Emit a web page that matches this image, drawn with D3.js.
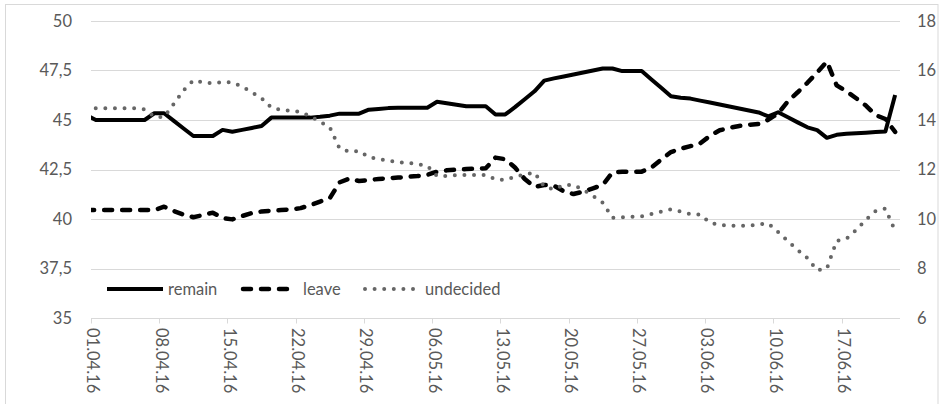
<!DOCTYPE html>
<html><head><meta charset="utf-8">
<script src="https://cdn.jsdelivr.net/npm/d3@7"></script>
<style>html,body{margin:0;padding:0;background:#fff;} svg{display:block;}</style>
</head><body>
<svg id="chart" width="944" height="404"></svg>
<script>
// ---- data ----
const dates = [
"31.03.16",
"01.04.16","02.04.16","03.04.16","04.04.16","05.04.16","06.04.16","07.04.16","08.04.16","09.04.16","10.04.16",
"11.04.16","12.04.16","13.04.16","14.04.16","15.04.16","16.04.16","17.04.16","18.04.16","19.04.16","20.04.16",
"21.04.16","22.04.16","23.04.16","24.04.16","25.04.16","26.04.16","27.04.16","28.04.16","29.04.16","30.04.16",
"01.05.16","02.05.16","03.05.16","04.05.16","05.05.16","06.05.16","07.05.16","08.05.16","09.05.16","10.05.16",
"11.05.16","12.05.16","13.05.16","14.05.16","15.05.16","16.05.16","17.05.16","18.05.16","19.05.16","20.05.16",
"21.05.16","22.05.16","23.05.16","24.05.16","25.05.16","26.05.16","27.05.16","28.05.16","29.05.16","30.05.16","31.05.16",
"01.06.16","02.06.16","03.06.16","04.06.16","05.06.16","06.06.16","07.06.16","08.06.16","09.06.16","10.06.16",
"11.06.16","12.06.16","13.06.16","14.06.16","15.06.16","16.06.16","17.06.16","18.06.16","19.06.16","20.06.16",
"21.06.16","22.06.16"
];
const remain = [
45.25,
45.0,45.0,45.0,45.0,45.0,45.0,45.34,45.34,44.96,44.57,
44.19,44.19,44.19,44.5,44.41,44.5,44.6,44.7,45.12,45.12,
45.12,45.12,45.12,45.16,45.22,45.32,45.32,45.32,45.52,45.56,
45.6,45.62,45.62,45.62,45.62,45.92,45.85,45.77,45.69,45.69,
45.69,45.28,45.28,45.65,46.05,46.45,46.99,47.1,47.2,47.3,
47.4,47.5,47.6,47.6,47.47,47.47,47.47,47.05,46.63,46.2,46.12,
46.08,45.98,45.88,45.78,45.68,45.58,45.48,45.38,45.18,45.39,
45.14,44.88,44.63,44.49,44.1,44.25,44.3,44.33,44.36,44.39,
44.42,46.26
];
const leave = [
40.45,
40.45,40.45,40.45,40.45,40.45,40.45,40.45,40.62,40.4,40.22,
40.09,40.2,40.32,40.05,39.98,40.15,40.3,40.38,40.42,40.45,
40.48,40.55,40.7,40.88,41.05,41.85,42.04,41.92,41.97,42.02,
42.06,42.09,42.13,42.17,42.23,42.39,42.46,42.49,42.52,42.54,
42.56,43.1,43.02,42.6,42.02,41.62,41.72,41.68,41.4,41.26,
41.38,41.55,41.72,42.35,42.39,42.39,42.39,42.6,43.0,43.38,43.55,
43.68,43.82,44.2,44.48,44.6,44.7,44.76,44.8,45.02,45.33,
45.95,46.4,46.88,47.4,47.95,46.75,46.45,46.1,45.73,45.25,
45.05,44.4
];
const undecided = [
14.47,
14.47,14.47,14.47,14.47,14.47,14.43,14.13,14.12,14.65,15.2,
15.6,15.52,15.48,15.54,15.52,15.35,15.12,14.88,14.5,14.4,
14.38,14.33,14.15,13.93,13.7,12.85,12.72,12.75,12.5,12.42,
12.36,12.29,12.27,12.21,12.15,11.74,11.74,11.77,11.78,11.78,
11.78,11.6,11.58,11.7,11.8,11.88,11.31,11.2,11.37,11.38,
11.18,10.93,10.66,10.05,10.07,10.09,10.11,10.2,10.3,10.39,10.3,
10.2,10.18,9.85,9.76,9.74,9.72,9.73,9.78,9.82,9.47,
9.1,8.75,8.42,7.93,8.0,9.12,9.2,9.55,9.97,10.32,
10.42,9.52
];
const xTickLabels = ["01.04.16","08.04.16","15.04.16","22.04.16","29.04.16","06.05.16","13.05.16","20.05.16","27.05.16","03.06.16","10.06.16","17.06.16"];
const xDomain = ["01.04.16","23.06.16"];
const leftTicks = [35,37.5,40,42.5,45,47.5,50];
const rightTicks = [6,8,10,12,14,16,18];
const seriesNames = ["remain","leave","undecided"];

// ---- drawing ----
const parse = d3.utcParse("%d.%m.%y");
const svg = d3.select("#chart");
const FONT = "Lato, 'Open Sans', sans-serif";
const TXT = "#595959";
const GRID = "#d9d9d9";

const plot = {left:91, right:900, top:21, bottom:318};

const x = d3.scaleUtc().domain(xDomain.map(parse)).range([plot.left, plot.right]);
const yL = d3.scaleLinear().domain([35,50]).range([plot.bottom, plot.top]);
const yR = d3.scaleLinear().domain([6,18]).range([plot.bottom, plot.top]);
// points sit in the middle of their day (date axis, between tick marks)
const xp = s => x(d3.utcHour.offset(parse(s), 12));

// outer border
svg.append("rect").attr("x",5.5).attr("y",4.5).attr("width",932.5).attr("height",430)
  .attr("fill","none").attr("stroke",GRID).attr("stroke-width",1);

// gridlines
svg.append("g").selectAll("line").data(leftTicks).join("line")
  .attr("x1",plot.left).attr("x2",plot.right)
  .attr("y1",d=>Math.round(yL(d))+0.5).attr("y2",d=>Math.round(yL(d))+0.5)
  .attr("stroke",GRID).attr("stroke-width",1);

// x tick marks
svg.append("g").selectAll("line").data(xTickLabels).join("line")
  .attr("x1",d=>Math.round(x(parse(d)))+0.5).attr("x2",d=>Math.round(x(parse(d)))+0.5)
  .attr("y1",Math.round(yL(35))+0.5).attr("y2",Math.round(yL(35))+5.5)
  .attr("stroke",GRID).attr("stroke-width",1);

// left labels
svg.append("g").selectAll("text").data(leftTicks).join("text")
  .attr("x",72).attr("y",d=>yL(d)).attr("text-anchor","end").attr("dy","0.36em")
  .attr("font-family",FONT).attr("font-size",16.5).attr("fill",TXT)
  .text(d=>String(d).replace(".",","));

// right labels
svg.append("g").selectAll("text").data(rightTicks).join("text")
  .attr("x",917).attr("y",d=>yR(d)).attr("text-anchor","start").attr("dy","0.36em")
  .attr("font-family",FONT).attr("font-size",16.5).attr("fill",TXT)
  .text(d=>String(d));

// x labels rotated
svg.append("g").selectAll("text").data(xTickLabels).join("text")
  .attr("transform",d=>`translate(${x(parse(d))},328) rotate(90)`)
  .attr("text-anchor","start").attr("dy","0.22em")
  .attr("font-family",FONT).attr("font-size",16.5).attr("fill",TXT)
  .text(d=>d);

// clip
svg.append("clipPath").attr("id","clip").append("rect")
  .attr("x",plot.left).attr("y",0).attr("width",plot.right-plot.left).attr("height",404);

const styles = {
  remain:   {stroke:"#000", width:4, dash:null, cap:"butt"},
  leave:    {stroke:"#000", width:4.5, dash:"8,10", cap:"round"},
  undecided:{stroke:"#666", width:4, dash:"0,9.6", cap:"round"}
};

const g = svg.append("g").attr("clip-path","url(#clip)");
const lineL = d3.line().x((d,i)=>xp(dates[i])).y(d=>yL(d));
const lineR = d3.line().x((d,i)=>xp(dates[i])).y(d=>yR(d));

[[remain,lineL,"remain"],[leave,lineL,"leave"],[undecided,lineR,"undecided"]].forEach(([vals,ln,name])=>{
  const s = styles[name];
  g.append("path").attr("d",ln(vals)).attr("fill","none")
   .attr("stroke",s.stroke).attr("stroke-width",s.width)
   .attr("stroke-linejoin","round").attr("stroke-linecap",s.cap)
   .attr("stroke-dasharray",s.dash);
});

// legend
const legendItems = [
  {name:seriesNames[0], x1:107, x2:163, tx:168},
  {name:seriesNames[1], x1:243, x2:293, tx:303},
  {name:seriesNames[2], x1:365, x2:417, tx:425}
];
const ly = 289;
legendItems.forEach(it=>{
  const s = styles[it.name];
  svg.append("line").attr("x1",it.x1).attr("x2",it.x2).attr("y1",ly).attr("y2",ly)
    .attr("stroke",s.stroke).attr("stroke-width",s.width)
    .attr("stroke-linecap",s.cap).attr("stroke-dasharray",s.dash);
  svg.append("text").attr("x",it.tx).attr("y",ly).attr("dy","0.36em")
    .attr("font-family",FONT).attr("font-size",16.5).attr("fill",TXT).text(it.name);
});
</script>
</body></html>
